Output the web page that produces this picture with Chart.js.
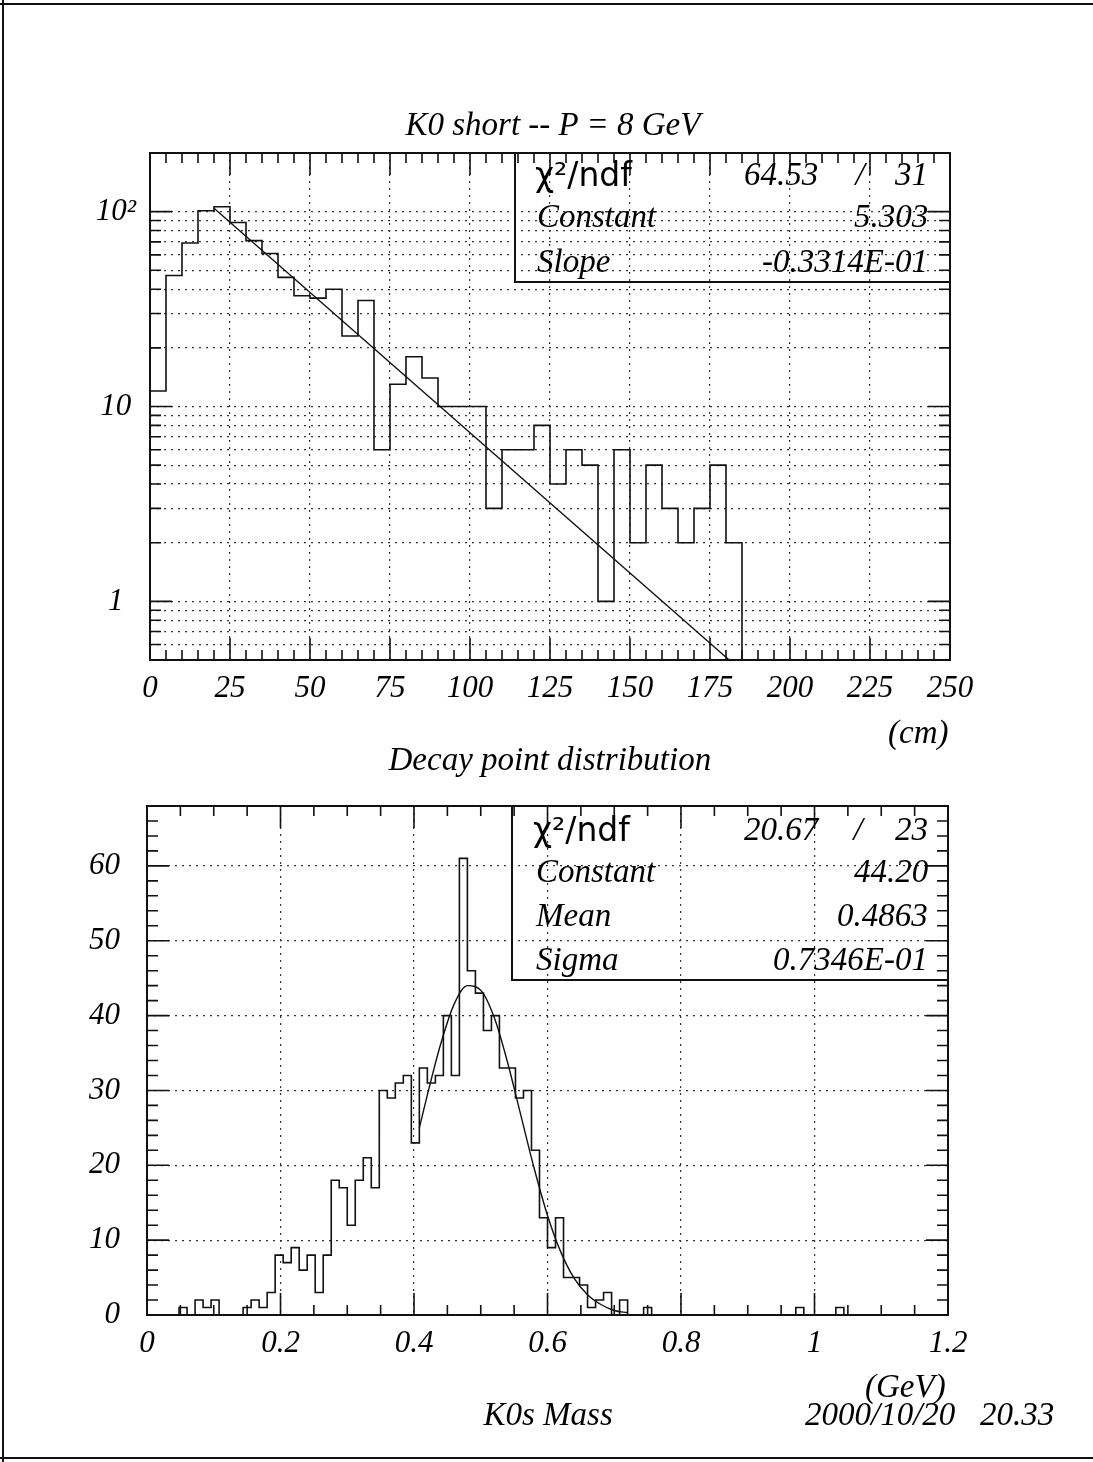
<!DOCTYPE html>
<html>
<head>
<meta charset="utf-8">
<title>K0 short decay point and mass</title>
<script src="https://cdn.jsdelivr.net/npm/chart.js@4.4.1/dist/chart.umd.min.js"></script>
<style>
  body { margin: 0; background: #fff; }
  #page { position: relative; width: 1093px; height: 1462px; overflow: hidden; background: #fff; }
  canvas { position: absolute; left: 0; top: 0; }
  .txt { position: absolute; font-family: 'Liberation Serif', 'Times New Roman', serif; font-style: italic;
         font-size: 33px; line-height: 1; white-space: pre; color: #000; }
  .sans { font-family: 'DejaVu Sans', sans-serif; font-style: normal; font-size: 33px; }
  .line { position: absolute; background: #111; }
</style>
</head>
<body>
<div id="page">
  <canvas id="decayChart" width="1093" height="1462"></canvas>
  <canvas id="massChart" width="1093" height="1462"></canvas>
</div>
<script>
/*
* data: decay length histogram (5 cm bins, 0-250 cm)
* and K0s invariant mass histogram (0.012 GeV bins, 0-1.2 GeV), plus the fits.
*/
const decayCounts = [12, 47, 69, 101, 106, 88, 71, 61, 46, 37,
   36, 40, 23, 35, 6, 13, 18, 14, 10, 10,
   10, 3, 6, 6, 8, 4, 6, 5, 1, 6,
   2, 5, 3, 2, 3, 5, 2, 0, 0, 0,
   0, 0, 0, 0, 0, 0, 0, 0, 0, 0];
const decayRange = [0, 250];
const decayBinWidth = 5;
const decayXTicks = [0, 25, 50, 75, 100, 125, 150, 175, 200, 225, 250];
const decayYRange = [0.5, 200];
const decayYLabelValues = [1, 10, 100];
const decayYLabelTexts = ['1', '10', '10²'];
const expoFitX = [20, 181];
const expoFitY = [104, 0.5];

const massCounts = [0, 0, 0, 0, 1, 0, 2, 1, 2, 0,
   0, 0, 1, 2, 1, 3, 8, 7, 9, 6,
   8, 3, 8, 18, 17, 12, 18, 21, 17, 30,
   29, 31, 32, 23, 33, 31, 32, 40, 32, 61,
   46, 43, 38, 40, 33, 33, 29, 30, 22, 13,
   9, 13, 5, 5, 4, 1, 2, 3, 0, 2,
   0, 0, 1, 0, 0, 0, 0, 0, 0, 0,
   0, 0, 0, 0, 0, 0, 0, 0, 0, 0,
   0, 1, 0, 0, 0, 0, 1, 0, 0, 0,
   0, 0, 0, 0, 0, 0, 0, 0, 0, 0];
const massRange = [0, 1.2];
const massBinWidth = 0.012;
const massXTicks = [0, 0.2, 0.4, 0.6, 0.8, 1, 1.2];
const massXLabels = ['0', '0.2', '0.4', '0.6', '0.8', '1', '1.2'];
const massYRange = [0, 68];
const massYTicks = [0, 10, 20, 30, 40, 50, 60];
const gausFitX = [0.408, 0.42, 0.44, 0.46, 0.48, 0.50, 0.52, 0.54, 0.56,
   0.58, 0.60, 0.62, 0.64, 0.66, 0.68, 0.70, 0.72];
const gausFitY = [25.0, 29.4, 36.2, 41.5, 44.0, 43.4, 39.8, 33.8, 26.7,
   19.6, 13.3, 8.4, 4.9, 2.7, 1.4, 0.6, 0.3];

const serif = "'Liberation Serif', 'Times New Roman', serif";
Chart.defaults.font.family = serif;
Chart.defaults.color = '#000';

/*
* turns bin contents into step points, one per bin at its left edge;
* empty bins sit on the floor so the log axis can still draw them.
*/
function histPoints(counts, lo, width, floor) {
   const pts = [{x: lo, y: floor}];
   counts.forEach((c, i) => pts.push({x: lo + i * width, y: Math.max(c, floor)}));
   pts.push({x: lo + counts.length * width, y: floor});
   return pts;
}

/*
* draws the plot frame and the inward pointing tick marks on all four sides,
* positions come from the chart's own scales.
*/
const frameTicks = {
   id: 'frameTicks',
   afterDraw(chart, args, opts) {
      const {ctx, chartArea: a, scales} = chart;
      ctx.save();
      ctx.strokeStyle = '#111';
      ctx.lineWidth = 1.6;
      ctx.beginPath();
      opts.xMarks.forEach(m => {
         const px = scales.x.getPixelForValue(m.v);
         const len = m.major ? 22 : 10;
         ctx.moveTo(px, a.bottom); ctx.lineTo(px, a.bottom - len);
         ctx.moveTo(px, a.top); ctx.lineTo(px, a.top + len);
      });
      opts.yMarks.forEach(m => {
         const py = scales.y.getPixelForValue(m.v);
         const len = m.major ? 22 : 11;
         ctx.moveTo(a.left, py); ctx.lineTo(a.left + len, py);
         ctx.moveTo(a.right, py); ctx.lineTo(a.right - len, py);
      });
      ctx.stroke();
      ctx.lineWidth = 2;
      ctx.strokeRect(a.left, a.top, a.right - a.left, a.bottom - a.top);
      ctx.restore();
   }
};

function marks(lo, hi, step, majorEvery) {
   const out = [];
   const n = Math.round((hi - lo) / step);
   for (let i = 0; i <= n; i++) {
      out.push({v: lo + i * step, major: i % majorEvery === 0});
   }
   return out;
}

function logMarks(lo, hi) {
   const out = [];
   for (let e = -1; e <= 2; e++) {
      for (let s = 1; s <= 9; s++) {
         const v = s * Math.pow(10, e);
         if (v >= lo - 1e-9 && v <= hi + 1e-9) {
            out.push({v: v, major: s === 1});
         }
      }
   }
   return out;
}

const gridDots = {color: '#333', lineWidth: 1.2, drawTicks: false};
const dotted = {display: false, dash: [2, 5]};
const tickFont = {family: serif, size: 31, style: 'italic'};

const decayYMarks = logMarks(decayYRange[0], decayYRange[1]);

new Chart(document.querySelector('#decayChart'), {
   type: 'line',
   data: {
      datasets: [{
         data: histPoints(decayCounts, decayRange[0], decayBinWidth, decayYRange[0]),
         stepped: 'before',
         borderColor: '#111',
         borderWidth: 1.6,
         pointRadius: 0,
         fill: false
      }, {
         data: expoFitX.map((x, i) => ({x: x, y: expoFitY[i]})),
         borderColor: '#111',
         borderWidth: 1.4,
         pointRadius: 0,
         fill: false
      }]
   },
   options: {
      responsive: false,
      animation: false,
      devicePixelRatio: 1,
      layout: {padding: {left: 0, right: 143, top: 153, bottom: 742}},
      plugins: {
         legend: {display: false},
         tooltip: {enabled: false},
         frameTicks: {
            xMarks: marks(decayRange[0], decayRange[1], 5, 5),
            yMarks: decayYMarks
         }
      },
      scales: {
         x: {
            type: 'linear',
            min: decayRange[0],
            max: decayRange[1],
            afterBuildTicks: scale => { scale.ticks = decayXTicks.map(v => ({value: v})); },
            afterFit: scale => { scale.height = 60; },
            ticks: {font: tickFont, padding: 10, maxRotation: 0, callback: v => String(v)},
            grid: gridDots,
            border: dotted
         },
         y: {
            type: 'logarithmic',
            min: decayYRange[0],
            max: decayYRange[1],
            afterBuildTicks: scale => { scale.ticks = decayYMarks.map(m => ({value: m.v})); },
            afterFit: scale => { scale.width = 150; },
            ticks: {
               font: tickFont,
               padding: 14,
               crossAlign: 'center',
               autoSkip: false,
               callback: v => {
                  const k = decayYLabelValues.findIndex(t => Math.abs(t - v) < 1e-9);
                  return k >= 0 ? decayYLabelTexts[k] : '';
               }
            },
            grid: gridDots,
            border: dotted
         }
      }
   },
   plugins: [frameTicks]
});

new Chart(document.querySelector('#massChart'), {
   type: 'line',
   data: {
      datasets: [{
         data: histPoints(massCounts, massRange[0], massBinWidth, 0),
         stepped: 'before',
         borderColor: '#111',
         borderWidth: 1.6,
         pointRadius: 0,
         fill: false
      }, {
         data: gausFitX.map((x, i) => ({x: x, y: gausFitY[i]})),
         borderColor: '#111',
         borderWidth: 1.4,
         pointRadius: 0,
         cubicInterpolationMode: 'monotone',
         fill: false
      }]
   },
   options: {
      responsive: false,
      animation: false,
      devicePixelRatio: 1,
      layout: {padding: {left: 0, right: 145, top: 806, bottom: 87}},
      plugins: {
         legend: {display: false},
         tooltip: {enabled: false},
         frameTicks: {
            xMarks: marks(massRange[0], massRange[1], 0.05, 4),
            yMarks: marks(massYRange[0], 66, 2, 5)
         }
      },
      scales: {
         x: {
            type: 'linear',
            min: massRange[0],
            max: massRange[1],
            afterBuildTicks: scale => { scale.ticks = massXTicks.map(v => ({value: v})); },
            afterFit: scale => { scale.height = 60; },
            ticks: {
               font: tickFont, padding: 10, maxRotation: 0,
               callback: (v, i) => massXLabels[i]
            },
            grid: gridDots,
            border: dotted
         },
         y: {
            type: 'linear',
            min: massYRange[0],
            max: massYRange[1],
            afterBuildTicks: scale => { scale.ticks = massYTicks.map(v => ({value: v})); },
            afterFit: scale => { scale.width = 147; },
            ticks: {font: tickFont, padding: 27, callback: v => String(v)},
            grid: gridDots,
            border: dotted
         }
      }
   },
   plugins: [frameTicks]
});

/*
* all the labels and stat boxes, placed as real text on top of the canvases.
* y is the centre of the glyphs, align says what x refers to.
*/
const page = document.querySelector('#page');
function put(text, x, y, align, cls) {
   const el = document.createElement('div');
   el.className = 'txt' + (cls ? ' ' + cls : '');
   el.textContent = text;
   el.style.top = (y - 17) + 'px';
   page.appendChild(el);
   const w = el.offsetWidth;
   const left = align === 'right' ? x - w : align === 'center' ? x - w / 2 : x;
   el.style.left = left + 'px';
}
function line(x, y, w, h) {
   const el = document.createElement('div');
   el.className = 'line';
   Object.assign(el.style, {left: x + 'px', top: y + 'px', width: w + 'px', height: h + 'px'});
   page.appendChild(el);
}

put('K0 short -- P = 8 GeV', 553, 125, 'center');
put('(cm)', 948, 733, 'right');
put('Decay point distribution', 550, 760, 'center');
put('(GeV)', 946, 1387, 'right');
put('K0s Mass', 548, 1415, 'center');
put('2000/10/20   20.33', 805, 1415, 'left');

// fit box of the exponential
line(514, 152, 2, 131);
line(514, 281, 436, 2);
put('χ²/ndf', 535, 175, 'left', 'sans');
put('64.53', 818, 175, 'right');
put('/', 860, 175, 'center');
put('31', 928, 175, 'right');
put('Constant', 537, 217, 'left');
put('5.303', 928, 217, 'right');
put('Slope', 537, 262, 'left');
put('-0.3314E-01', 928, 262, 'right');

// fit box of the gaussian
line(511, 806, 2, 175);
line(511, 979, 437, 2);
put('χ²/ndf', 533, 830, 'left', 'sans');
put('20.67', 818, 830, 'right');
put('/', 858, 830, 'center');
put('23', 928, 830, 'right');
put('Constant', 536, 872, 'left');
put('44.20', 928, 872, 'right');
put('Mean', 536, 916, 'left');
put('0.4863', 928, 916, 'right');
put('Sigma', 536, 960, 'left');
put('0.7346E-01', 928, 960, 'right');

// edges of the scanned sheet
line(0, 3, 1093, 2);
line(2, 0, 2, 1462);
line(0, 1457, 1093, 2);
</script>
</body>
</html>
